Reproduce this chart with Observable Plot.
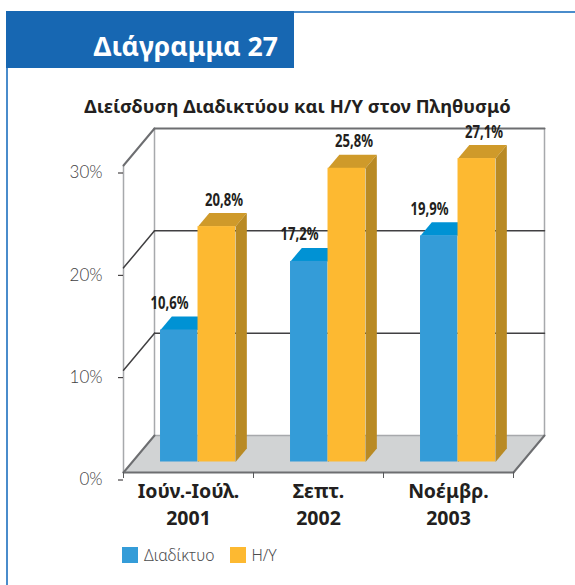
<!DOCTYPE html>
<html lang="el">
<head>
<meta charset="utf-8">
<script src="https://cdn.jsdelivr.net/npm/d3@7"></script>
<script src="https://cdn.jsdelivr.net/npm/@observablehq/plot@0.6"></script>
<style>
  html, body { margin: 0; padding: 0; background: #fff; }
  #page { position: relative; width: 575px; height: 585px; overflow: hidden; font-family: "Noto Sans", sans-serif; }
  #page svg { display: block; background: transparent; }
  .frame { position: absolute; background: #4a8ccb; }
  #badge { position: absolute; left: 6px; top: 11px; width: 288px; height: 57px; background: #1767b2; color: #fff;
           font-weight: 700; font-size: 26.6px; line-height: 57px; text-align: right; padding-right: 16px; box-sizing: border-box; padding-top: 7px; white-space: nowrap; }
  #title { position: absolute; left: 0; top: 92px; width: 595px; text-align: center; font-weight: 700; font-size: 18.4px; line-height: 28px; color: #231f20; white-space: nowrap; }
  #head { height: 118px; }
  #legend { position: absolute; left: 122px; top: 546px; display: flex; align-items: center; height: 17px; font-size: 15.7px; color: #4d4d4f; font-weight: 300; }
  #legend i { display: inline-block; width: 16px; height: 16px; margin-right: 6px; }
  #legend span { margin-right: 15px; }
</style>
</head>
<body>
<div id="page">
  <div class="frame" style="left:6px;top:68px;width:2px;height:517px"></div>
  <div class="frame" style="left:294px;top:11px;width:281px;height:2px"></div>
  <div id="badge">Διάγραμμα 27</div>
  <div id="title">Διείσδυση Διαδικτύου και Η/Υ στον Πληθυσμό</div>
  <div id="head"></div>
  <div id="chart"></div>
  <div id="legend"></div>
</div>
<script>
const categories = ["Ιούν.-Ιούλ.\n2001", "Σεπτ.\n2002", "Νοέμβρ.\n2003"];
const seriesNames = ["Διαδίκτυο", "Η/Υ"];
// numbers printed above the bars
const internetLabels = [10.6, 17.2, 19.9];
const pcLabels = [20.8, 25.8, 27.1];
// drawn bar heights, read against the axis
const internetHeights = [12.9, 19.6, 22.1];
const pcHeights = [23.0, 28.7, 29.65];
const yTicks = [0, 10, 20, 30];

const INK = "#231f20", GREY = "#414042";
const BLUE = {front: "#349cd8", top: "#0092d4", side: "#0b7fb8"};
const AMBER = {front: "#fdb931", top: "#cf9a2a", side: "#b98a24"};

// oblique projection: a depth d in 0..1 shifts x (in category units) and y (in percent)
const kx = 31 / 130, ky = 3.617;
const P = (x, y, d) => ({x: x + d * kx, y: y + d * ky});
const D0 = 0.284, D1 = 0.649, BW = 0.2885, START = 0.217;

function bars(heights, col, name) {
  const start = START + col * BW;
  const fronts = [], tops = [], sides = [];
  heights.forEach((h, i) => {
    const a = i + start, b = a + BW;
    fronts.push({x1: P(a, 0, D0).x, x2: P(b, 0, D0).x, y1: P(a, 0, D0).y, y2: P(a, h, D0).y});
    [P(a, h, D0), P(b, h, D0), P(b, h, D1), P(a, h, D1)].forEach(p => tops.push({...p, id: name + i}));
    [P(b, 0, D0), P(b, h, D0), P(b, h, D1), P(b, 0, D1)].forEach(p => sides.push({...p, id: name + i}));
  });
  return {fronts, tops, sides};
}
function labelRows(values, heights, col) {
  const start = START + col * BW;
  return values.map((v, i) => ({...P(i + start + BW / 2, heights[i], D1), text: v.toFixed(1).replace(".", ",") + "%"}));
}
const seg = (id, a, b) => [{...a, id}, {...b, id}];

const floor = [P(0,0,0), P(3,0,0), P(3,0,1), P(0,0,1)];
const grid = [10, 20].flatMap(v => [
  ...seg("w" + v, P(0, v, 0), P(0, v, 1)),
  ...seg("b" + v, P(0, v, 1), P(3, v, 1))
]);
const wallsLight = [
  ...seg("lf", P(0,0,0), P(0,30,0)),
  ...seg("lb", P(0,0,1), P(0,30,1)),
  ...seg("rb", P(3,0,1), P(3,30,1)),
  ...seg("fb", P(0,0,1), P(3,0,1))
];
const wallsDark = [
  ...seg("tl", P(0,30,0), P(0,30,1)),
  ...seg("tb", P(0,30,1), P(3,30,1)),
  ...seg("fl", P(0,0,0), P(0,0,1)),
  ...seg("fr", P(3,0,0), P(3,0,1)),
  ...seg("ff", P(0,0,0), P(3,0,0))
];

const b1 = bars(internetHeights, 0, "a"), b2 = bars(pcHeights, 1, "b");
const poly = (rows, fill) => Plot.line(rows, {x: "x", y: "y", z: "id", fill, stroke: "none"});
const seglines = (rows, stroke, strokeWidth) => Plot.line(rows, {x: "x", y: "y", z: "id", stroke, strokeWidth});
const valueFont = {fontFamily: "'Noto Sans',sans-serif", fontWeight: 700, fontSize: 17, fill: INK, textAnchor: "middle", className: "vlab"};

const chart = Plot.plot({
  width: 575, height: 420,
  marginLeft: 123, marginRight: 62, marginTop: 47, marginBottom: 66,
  style: {background: "transparent", fontFamily: "'Noto Sans',sans-serif"},
  x: {domain: [0, 3]},
  y: {domain: [0, 30]},
  marks: [
    poly(floor.map(p => ({...p, id: "floor"})), "#d1d3d4"),
    seglines(wallsLight, "#a7a9ac", 1.5),
    seglines(grid, "#414042", 1.5),
    seglines(wallsDark, "#6d6e71", 2),
    Plot.axisY({ticks: yTicks, tickFormat: d => d + "%", tickSize: 5, tickPadding: 16, dy: 7.5, fontSize: 17, fontFamily: "Lato, 'Noto Sans', sans-serif", fontWeight: 300, label: null, fill: GREY, stroke: INK}),
    Plot.axisX({ticks: [0, 1, 2, 3], tickFormat: () => "", tickSize: 6, label: null, stroke: "#58595b"}),
    Plot.axisX({ticks: [0.5, 1.5, 2.5], tickSize: 0, tickPadding: 6, label: null, tickFormat: t => categories[Math.floor(t)],
      fontSize: 19.5, fontWeight: 700, fill: INK, lineHeight: 1.39}),
    poly(b1.tops, BLUE.top), poly(b1.sides, BLUE.side),
    Plot.rect(b1.fronts, {x1: "x1", x2: "x2", y1: "y1", y2: "y2", fill: BLUE.front}),
    poly(b2.tops, AMBER.top), poly(b2.sides, AMBER.side),
    Plot.rect(b2.fronts, {x1: "x1", x2: "x2", y1: "y1", y2: "y2", fill: AMBER.front}),
    Plot.text(labelRows(internetLabels, internetHeights, 0), {x: "x", y: "y", text: "text", dx: -21, dy: -13, ...valueFont}),
    Plot.text(labelRows(pcLabels, pcHeights, 1), {x: "x", y: "y", text: "text", dx: -4, dy: -13, ...valueFont})
  ]
});
document.getElementById("chart").appendChild(chart);
// the reference's value labels use a condensed face: keep them as real text, squeezed to its width
d3.select(chart).selectAll(".vlab text").attr("textLength", 38).attr("lengthAdjust", "spacingAndGlyphs");

const legend = document.getElementById("legend");
seriesNames.forEach((name, i) => {
  const sw = document.createElement("i");
  sw.style.background = i ? AMBER.front : BLUE.front;
  const t = document.createElement("span");
  t.textContent = name;
  legend.append(sw, t);
});
</script>
</body>
</html>
